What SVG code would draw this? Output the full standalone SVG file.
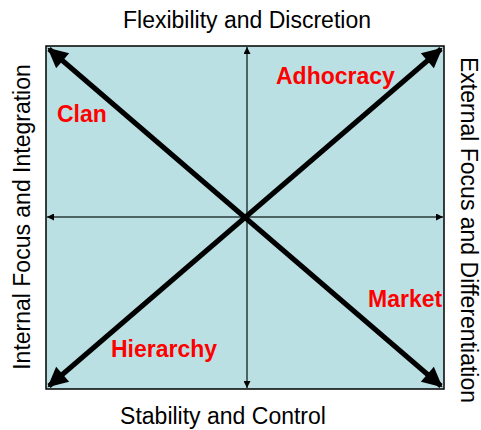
<svg xmlns="http://www.w3.org/2000/svg" width="481" height="430" viewBox="0 0 481 430">
  <style>
    .axis-label { font-family: "Liberation Sans", Arial, sans-serif; font-size: 23px; fill: #000; }
    .quad { font-family: "Liberation Sans", Arial, sans-serif; font-size: 23px; font-weight: bold; fill: #ff0000; }
    .thin { stroke: #2a3a3a; stroke-width: 1.5; fill: none; }
    .thick { stroke: #000; stroke-width: 5; fill: none; }
  </style>
  <defs>
    <marker id="smallArrow" viewBox="0 0 10 10" refX="10" refY="5" markerWidth="7" markerHeight="7" markerUnits="userSpaceOnUse" orient="auto-start-reverse">
      <path d="M0,0 L10,5 L0,10 Z" fill="#000"/>
    </marker>
    <marker id="bigArrow" viewBox="0 0 10 10" refX="9" refY="5" markerWidth="24" markerHeight="20" markerUnits="userSpaceOnUse" orient="auto-start-reverse">
      <path d="M0,0 L10,5 L0,10 Z" fill="#000"/>
    </marker>
  </defs>

  <!-- quadrant field -->
  <g id="field">
    <rect x="46" y="46" width="398" height="343" fill="#bbe0e3" stroke="#000" stroke-width="1.5"/>
  </g>

  <!-- axes and diagonals -->
  <g id="connectors">
    <line class="thin" x1="247" y1="217" x2="247" y2="47" marker-end="url(#smallArrow)"/>
    <line class="thin" x1="247" y1="217" x2="247" y2="388" marker-end="url(#smallArrow)"/>
    <line class="thin" x1="247" y1="217" x2="47" y2="217" marker-end="url(#smallArrow)"/>
    <line class="thin" x1="247" y1="217" x2="443" y2="217" marker-end="url(#smallArrow)"/>
    <line class="thick" x1="49" y1="49" x2="441" y2="386" marker-start="url(#bigArrow)" marker-end="url(#bigArrow)"/>
    <line class="thick" x1="49" y1="386" x2="441" y2="49" marker-start="url(#bigArrow)" marker-end="url(#bigArrow)"/>
  </g>

  <!-- dimension labels -->
  <g id="top-label"><text class="axis-label" x="247" y="28" text-anchor="middle">Flexibility and Discretion</text></g>
  <g id="bottom-label"><text class="axis-label" x="223" y="424" text-anchor="middle">Stability and Control</text></g>
  <g id="left-label"><text class="axis-label" transform="translate(30,217) rotate(-90)" text-anchor="middle">Internal Focus and Integration</text></g>
  <g id="right-label"><text class="axis-label" transform="translate(461,230) rotate(90)" text-anchor="middle">External Focus and Differentiation</text></g>

  <!-- culture types -->
  <g id="clan"><text class="quad" x="57" y="122">Clan</text></g>
  <g id="adhocracy"><text class="quad" x="276" y="84">Adhocracy</text></g>
  <g id="market"><text class="quad" x="368" y="307">Market</text></g>
  <g id="hierarchy"><text class="quad" x="111" y="357">Hierarchy</text></g>
</svg>
